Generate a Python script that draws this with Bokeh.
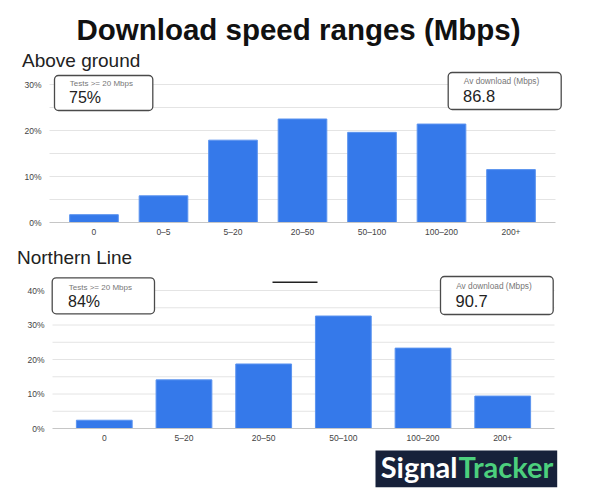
from bokeh.plotting import figure
from bokeh.models import (Range1d, FixedTicker, PrintfTickFormatter, LinearAxis,
                          BoxAnnotation, Label)
from bokeh.embed import file_html
from bokeh.resources import INLINE

# ---------------- data ----------------
title_text = "Download speed ranges (Mbps)"
fast_caption = "Tests >= 20 Mbps"
avg_caption = "Av download (Mbps)"

above_title = "Above ground"
above_labels = ["0", "0–5", "5–20", "20–50", "50–100", "100–200", "200+"]
above_values = [1.7, 5.8, 17.9, 22.5, 19.6, 21.4, 11.5]
above_fast = "75%"
above_avg = "86.8"

northern_title = "Northern Line"
northern_labels = ["0", "5–20", "20–50", "50–100", "100–200", "200+"]
northern_values = [2.4, 14.1, 18.7, 32.6, 23.3, 9.4]
northern_fast = "84%"
northern_avg = "90.7"

logo_a = "Signal"
logo_b = "Tracker"

FONT = "Liberation Sans"
BAR = "#3579ea"
GRID = "#e4e4e4"
W, H = 590, 504

p = figure(width=W, height=H, x_range=Range1d(0, W), y_range=Range1d(0, H),
           x_axis_location=None, y_axis_location=None, min_border=0,
           output_backend="svg", toolbar_location=None)
p.outline_line_color = None
p.background_fill_color = "white"
p.grid.visible = False


def chart(name, labels, values, ymax, gl, gr, fb, y_top, pad):
    """gl/gr: horizontal extent of the plot area (px), fb: px of the 0% line,
    y_top: px of the ymax line, pad: side padding in category units."""
    n = len(labels)
    xs = list(range(n))
    unit = (gr - gl) / (n - 1 + 2 * pad)
    ppu = (fb - y_top) / ymax
    p.extra_x_ranges = {**p.extra_x_ranges,
                        name: Range1d(-pad - gl / unit, -pad + (W - gl) / unit)}
    p.extra_y_ranges = {**p.extra_y_ranges,
                        name: Range1d((fb - H) / ppu, fb / ppu)}
    major = list(range(0, ymax + 1, 10))
    minor = list(range(5, ymax, 10))
    gy = sorted(major[1:] + minor)
    p.segment(x0=[-pad] * len(gy), x1=[n - 1 + pad] * len(gy), y0=gy, y1=gy,
              x_range_name=name, y_range_name=name, line_color=GRID, line_width=1)
    p.vbar(x=xs, top=values, width=0.7, x_range_name=name, y_range_name=name,
           fill_color=BAR, line_color="#5b93ef", line_width=1)
    common = dict(x_range_name=name, y_range_name=name,
                  major_tick_line_color=None, minor_tick_line_color=None,
                  major_tick_out=0, major_tick_in=0, minor_tick_out=0, minor_tick_in=0,
                  major_label_text_font=FONT, major_label_text_font_size="8.5px",
                  major_label_text_color="#444444")
    yax = LinearAxis(fixed_location=-pad, bounds=(0, ymax), ticker=FixedTicker(ticks=major),
                     formatter=PrintfTickFormatter(format="%d%%"), axis_line_color=None,
                     major_label_standoff=8, **common)
    p.add_layout(yax, "left")
    xax = LinearAxis(fixed_location=0, bounds=(-pad, n - 1 + pad), ticker=FixedTicker(ticks=xs),
                     major_label_overrides={i: lab for i, lab in zip(xs, labels)},
                     axis_line_color="#c6c6c6", axis_line_width=1,
                     major_label_standoff=4, **common)
    p.add_layout(xax, "below")


def text(X, Y, s, size, color, align="left", style="normal", font=FONT):
    p.add_layout(Label(x=X, y=H - Y, x_units="screen", y_units="screen", text=s,
                       text_font=font, text_font_size=size, text_color=color,
                       text_align=align, text_baseline="middle", text_font_style=style))


def box(X0, X1, Y0, Y1, fill="white", line="#4a4a4a", lw=1.3, radius=4):
    p.add_layout(BoxAnnotation(left=X0, right=X1, top=H - Y0, bottom=H - Y1,
                               left_units="screen", right_units="screen",
                               top_units="screen", bottom_units="screen",
                               fill_color=fill, fill_alpha=1.0, line_color=line,
                               line_alpha=1.0, line_width=lw, border_radius=radius))


# ---------------- titles ----------------
text(298, 28.5, title_text, "29.5px", "#111111", align="center", style="bold")
text(21.5, 60, above_title, "19px", "#222222")
text(16.5, 257, northern_title, "19px", "#222222")

# ---------------- charts ----------------
chart("top", above_labels, above_values, 30, 49, 555, 222, 84, 0.64)
chart("bottom", northern_labels, northern_values, 40, 52, 554, 428, 290, 0.65)

# ---------------- stat boxes ----------------
box(54, 152.3, 75, 110)
text(69.3, 83.3, fast_caption, "8px", "#777777")
text(68.5, 97.3, above_fast, "16px", "#222222")
box(447.7, 560.7, 72, 109)
text(463.3, 80.7, avg_caption, "8.3px", "#777777")
text(462.5, 95, above_avg, "16.5px", "#222222")

box(51.7, 154, 277.3, 313.3)
text(68.3, 286.7, fast_caption, "8px", "#777777")
text(67.5, 301, northern_fast, "16px", "#222222")
box(440, 552.7, 276, 314)
text(455.7, 285.7, avg_caption, "8.3px", "#777777")
text(455, 300, northern_avg, "16.5px", "#222222")

# short dark stroke present in the source image
box(272, 317, 281, 282.5, fill="#222222", line=None, lw=0, radius=0)

# ---------------- logo ----------------
box(375, 556.7, 450, 486.7, fill="#17213a", line=None, lw=0, radius=0)
text(457, 465.5, logo_a, "29px", "#ffffff", align="right", style="bold", font="Lato")
text(458, 465.5, logo_b, "29px", "#4ccf7d", align="left", style="bold", font="Lato")

open("out.html", "w").write(file_html(p, INLINE))
